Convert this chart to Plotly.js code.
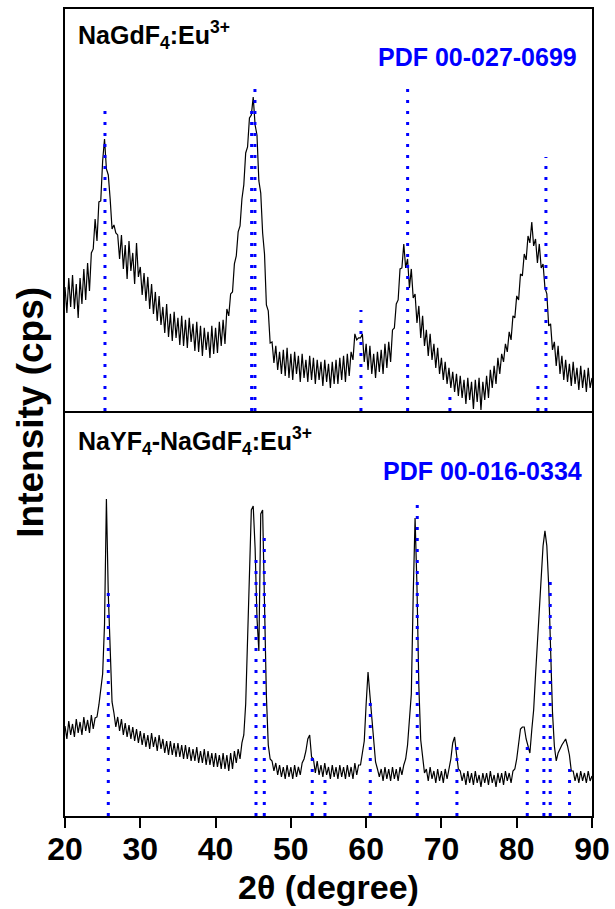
<!DOCTYPE html>
<html>
<head>
<meta charset="utf-8">
<script src="https://cdn.plot.ly/plotly-3.0.1.min.js"></script>
<style>html,body{margin:0;padding:0;background:#fff;}#chart{width:615px;height:909px;}</style>
</head>
<body>
<div id="chart"></div>
<script>
// 2θ scan grid
const twoThetaStart = 20;
const twoThetaStep = 0.25;

// NaGdF4:Eu3+ intensity (arb., top panel)
const intensityNaGdF4 = [
124,98,133,104, 136,102,127,93, 133,107,142,111, 148,120,158,162,
192,170,209,210, 250,272,242,236, 212,182,186,178, 176,152,176,142,
166,132,170,140, 158,127,168,134, 144,116,138,110, 134,102,127,97,
119,90,115,86, 104,78,107,74, 97,70,99,73, 93,66,95,65,
91,63,93,69, 87,60,89,59, 85,55,83,61, 79,53,85,57,
83,58,89,65, 91,67,102,95, 117,119,147,155, 179,185,212,226,
258,264,293,296, 314,286,276,230, 218,178,157,106, 100,68,69,48,
65,41,59,37, 61,35,63,33, 57,31,59,37, 55,29,57,33,
51,29,55,31, 53,27,51,31, 49,25,51,29, 47,23,49,27,
51,27,53,31, 55,29,57,35, 59,51,77,71, 73,73,77,49,
67,41,65,37, 57,33,59,39, 61,37,67,43, 69,49,81,83,
107,111,142,143, 167,143,152,123, 142,113,117,88, 105,73,95,65,
81,55,77,51, 67,43,63,37, 53,31,49,27, 43,23,39,19,
37,15,35,13, 31,7,33,11, 29,2,31,9, 33,1,29,11,
35,13,41,23, 45,27,53,37, 57,49,67,59, 79,71,95,93,
115,111,137,135, 157,151,175,168, 189,165,172,148, 167,143,147,123,
117,85,87,61, 69,45,65,37, 55,31,51,29, 47,25,49,27,
43,21,45,23, 41,19,43,23, 33
];

// NaYF4-NaGdF4:Eu3+ intensity (arb., bottom panel)
const intensityCoreShell = [
90,77,95,81, 92,79,97,83, 94,81,99,85, 96,83,101,87,
98,99,111,125, 142,192,317,222, 160,114,103,89, 99,85,97,81,
93,79,91,77, 89,75,87,73, 85,71,83,69, 81,67,83,69,
79,65,81,67, 77,63,75,61, 75,61,73,59, 73,59,71,57,
71,57,69,55, 67,55,69,53, 65,53,67,51, 65,51,63,49,
63,49,61,47, 63,47,61,45, 63,47,65,53, 67,57,73,81,
112,182,262,306, 310,268,198,165, 302,306,212,120, 71,57,55,45,
53,41,51,39, 49,37,51,39, 49,37,51,39, 49,41,53,57,
65,77,81,59, 57,43,55,41, 51,39,53,41, 49,37,51,39,
49,37,51,39, 49,37,51,39, 49,37,53,41, 51,51,63,75,
112,144,121,99, 70,54,47,39, 47,35,49,37, 47,35,49,37,
47,35,49,41, 51,57,71,95, 122,220,298,230, 130,76,57,43,
47,35,49,37, 45,33,47,35, 45,33,47,37, 47,57,73,79,
62,47,45,35, 43,31,45,33, 43,31,45,33, 41,29,43,33,
43,31,45,33, 41,29,43,33, 43,31,45,35, 43,33,45,47,
57,75,87,89, 89,77,70,63, 86,106,141,173, 207,241,270,285,
270,230,170,104, 70,55,63,68, 71,74,77,70, 61,45,45,35,
43,33,45,35, 43,33,45,35, 40
];

// Reference pattern PDF 00-027-0699 (top)
const refTopPos = [25.31, 44.79, 45.23, 59.31, 65.51, 71.13, 82.82, 83.88];
const refTopHeight = [304, 300, 322, 101, 322, 14, 31, 254];

// Reference pattern PDF 00-016-0334 (bottom)
const refBotPos = [25.75, 45.37, 46.47, 52.84, 54.53, 60.55, 66.79, 72.06, 81.40, 83.61, 84.45, 87.02];
const refBotHeight = [224, 256, 286, 64, 40, 117, 316, 71, 71, 148, 239, 53];

const xTicks = [20, 30, 40, 50, 60, 70, 80, 90];

function grid(n) {
  const out = [];
  for (let i = 0; i < n; i++) out.push(twoThetaStart + i * twoThetaStep);
  return out;
}
function sticks(pos, h) {
  const xs = [], ys = [];
  pos.forEach((p, i) => { xs.push(p, p, null); ys.push(0, h[i], null); });
  return {xs, ys};
}

const FONT = 'Liberation Sans, Arial, sans-serif';
const topSticks = sticks(refTopPos, refTopHeight);
const botSticks = sticks(refBotPos, refBotHeight);
const dotStyle = {color: '#0000FF', width: 3, dash: '3px,8px'};

const traces = [
  {x: grid(intensityCoreShell.length), y: intensityCoreShell, xaxis: 'x', yaxis: 'y',
   mode: 'lines', line: {color: '#000', width: 1.2}, hoverinfo: 'skip'},
  {x: grid(intensityNaGdF4.length), y: intensityNaGdF4, xaxis: 'x2', yaxis: 'y2',
   mode: 'lines', line: {color: '#000', width: 1.2}, hoverinfo: 'skip'},
  {x: botSticks.xs, y: botSticks.ys, xaxis: 'x', yaxis: 'y', mode: 'lines',
   line: dotStyle, connectgaps: false, hoverinfo: 'skip'},
  {x: topSticks.xs, y: topSticks.ys, xaxis: 'x2', yaxis: 'y2', mode: 'lines',
   line: dotStyle, connectgaps: false, hoverinfo: 'skip'}
];

const boxAxis = {showline: true, linecolor: '#000', linewidth: 2, mirror: true,
  showgrid: false, zeroline: false, ticks: '', showticklabels: false};

const layout = {
  width: 615, height: 909,
  margin: {l: 65, r: 23, t: 9, b: 93, pad: 0},
  paper_bgcolor: '#fff', plot_bgcolor: '#fff',
  showlegend: false,
  font: {family: FONT, color: '#000'},
  xaxis: Object.assign({}, boxAxis, {
    domain: [0, 1], anchor: 'y', range: [20, 90], mirror: false,
    ticks: 'outside', ticklen: 10, tickwidth: 2, tickcolor: '#000',
    tickvals: xTicks, ticktext: xTicks.map(String), showticklabels: true,
    ticklabelstandoff: -6,
    tickfont: {family: FONT, size: 32, weight: 700, color: '#000'},
    title: {text: '2θ (degree)', font: {family: FONT, size: 34, weight: 700, color: '#000'}, standoff: 9}
  }),
  xaxis2: Object.assign({}, boxAxis, {domain: [0, 1], anchor: 'y2', range: [20, 90], matches: 'x'}),
  yaxis: Object.assign({}, boxAxis, {domain: [0, 0.502], anchor: 'x', range: [0, 405]}),
  yaxis2: Object.assign({}, boxAxis, {domain: [0.502, 1], anchor: 'x2', range: [0, 402]}),
  annotations: [
    {text: 'Intensity (cps)', xref: 'paper', yref: 'paper', x: -0.066, y: 0.5,
     xanchor: 'center', yanchor: 'middle', textangle: -90, showarrow: false,
     font: {family: FONT, size: 37, weight: 700, color: '#000'}},
    {text: 'NaGdF<sub>4</sub>:Eu<sup>3+</sup>', xref: 'paper', yref: 'paper', x: 0.02, y: 0.968,
     xanchor: 'left', yanchor: 'middle', showarrow: false,
     font: {family: FONT, size: 25, weight: 700, color: '#000'}},
    {text: 'PDF 00-027-0699', xref: 'paper', yref: 'paper', x: 0.976, y: 0.9405,
     xanchor: 'right', yanchor: 'middle', showarrow: false,
     font: {family: FONT, size: 25, weight: 700, color: '#0000FF'}},
    {text: 'NaYF<sub>4</sub>-NaGdF<sub>4</sub>:Eu<sup>3+</sup>', xref: 'paper', yref: 'paper', x: 0.02, y: 0.4647,
     xanchor: 'left', yanchor: 'middle', showarrow: false,
     font: {family: FONT, size: 25, weight: 700, color: '#000'}},
    {text: 'PDF 00-016-0334', xref: 'paper', yref: 'paper', x: 0.984, y: 0.4281,
     xanchor: 'right', yanchor: 'middle', showarrow: false,
     font: {family: FONT, size: 25, weight: 700, color: '#0000FF'}}
  ]
};

Plotly.newPlot('chart', traces, layout, {displayModeBar: false, staticPlot: true});
</script>
</body>
</html>
